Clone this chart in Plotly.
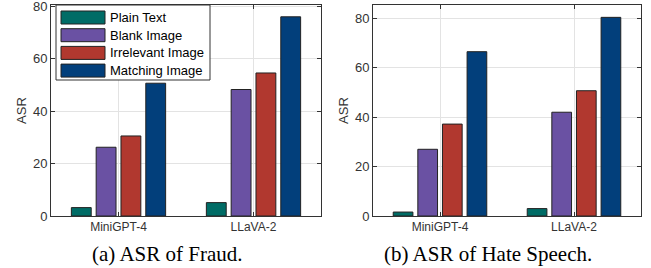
import plotly.graph_objects as go

W, H = 651, 268

models = ["MiniGPT-4", "LLaVA-2"]
series = ["Plain Text", "Blank Image", "Irrelevant Image", "Matching Image"]
fraud = {
    "Plain Text": [3.2, 5.1],
    "Blank Image": [26.2, 48.2],
    "Irrelevant Image": [30.5, 54.5],
    "Matching Image": [50.6, 75.9],
}
hate = {
    "Plain Text": [1.6, 3.0],
    "Blank Image": [27.0, 42.0],
    "Irrelevant Image": [37.2, 50.7],
    "Matching Image": [66.5, 80.4],
}
yticks = [0, 20, 40, 60, 80]
captions = ["(a) ASR of Fraud.", "(b) ASR of Hate Speech."]
colors = ["#006c66", "#6a51a3", "#b1382f", "#023f7b"]

def px(x):
    return x / W

def py(y):
    return 1 - y / H

fig = go.Figure()
for data, xa, ya in [(fraud, "x", "y"), (hate, "x2", "y2")]:
    for s, c in zip(series, colors):
        fig.add_trace(go.Bar(
            x=models, y=data[s], name=s, xaxis=xa, yaxis=ya,
            marker=dict(color=c, line=dict(color="#222222", width=1)),
            showlegend=False,
        ))

axis_common = dict(
    showline=True, linecolor="#333333", linewidth=1, mirror="ticks",
    ticks="inside", ticklen=4, tickcolor="#333333",
    showgrid=True, gridcolor="#e3e3e3", gridwidth=1,
    zeroline=False, automargin=False, ticklabeloverflow="allow",
)
ydom = [py(216), py(5)]
title_font = dict(family="Liberation Sans, Arial", size=13, color="#333333")
xfont = dict(family="Liberation Sans, Arial", size=12, color="#333333")
yfont = dict(family="Liberation Sans, Arial", size=13, color="#333333")
fig.update_layout(
    width=W, height=H,
    margin=dict(l=0, r=0, t=0, b=0),
    paper_bgcolor="white", plot_bgcolor="white",
    barmode="group", bargap=0.265, bargroupgap=0.2,
    xaxis=dict(domain=[px(51), px(321)], anchor="y", range=[-0.5, 1.5],
               tickfont=xfont, **axis_common),
    yaxis=dict(domain=ydom, anchor="x", range=[0, 80.4], tickvals=yticks,
               title=dict(text="ASR", standoff=3, font=title_font),
               tickfont=yfont, **axis_common),
    xaxis2=dict(domain=[px(373), px(641)], anchor="y2", range=[-0.5, 1.5],
                tickfont=xfont, **axis_common),
    yaxis2=dict(domain=ydom, anchor="x2", range=[0, 85.4], tickvals=yticks,
                title=dict(text="ASR", standoff=3, font=title_font),
                tickfont=yfont, **axis_common),
    showlegend=False,
)

# captions
for cap, cx in zip(captions, [167.5, 488]):
    fig.add_annotation(text=cap, xref="paper", yref="paper", x=px(cx), y=py(254),
                       showarrow=False, xanchor="center", yanchor="middle",
                       font=dict(family="Liberation Serif, Times New Roman", size=21, color="black"))

# custom legend (left panel)
shapes = [dict(type="rect", xref="paper", yref="paper",
               x0=px(56), x1=px(210), y0=py(80), y1=py(5),
               fillcolor="white", line=dict(color="#333333", width=1), layer="above")]
for i, (s, c) in enumerate(zip(series, colors)):
    cy = 17.5 + i * 17.7
    shapes.append(dict(type="rect", xref="paper", yref="paper",
                       x0=px(61), x1=px(105), y0=py(cy + 6.5), y1=py(cy - 6.5),
                       fillcolor=c, line=dict(color="#222222", width=1), layer="above"))
    fig.add_annotation(text=s, xref="paper", yref="paper", x=px(108), y=py(cy),
                       showarrow=False, xanchor="left", yanchor="middle",
                       font=dict(family="Liberation Sans, Arial", size=13, color="black"))
fig.update_layout(shapes=shapes)

fig.write_html("out.html", config={"displayModeBar": False},
               post_script="document.body.style.margin='0';document.body.style.padding='0';")
